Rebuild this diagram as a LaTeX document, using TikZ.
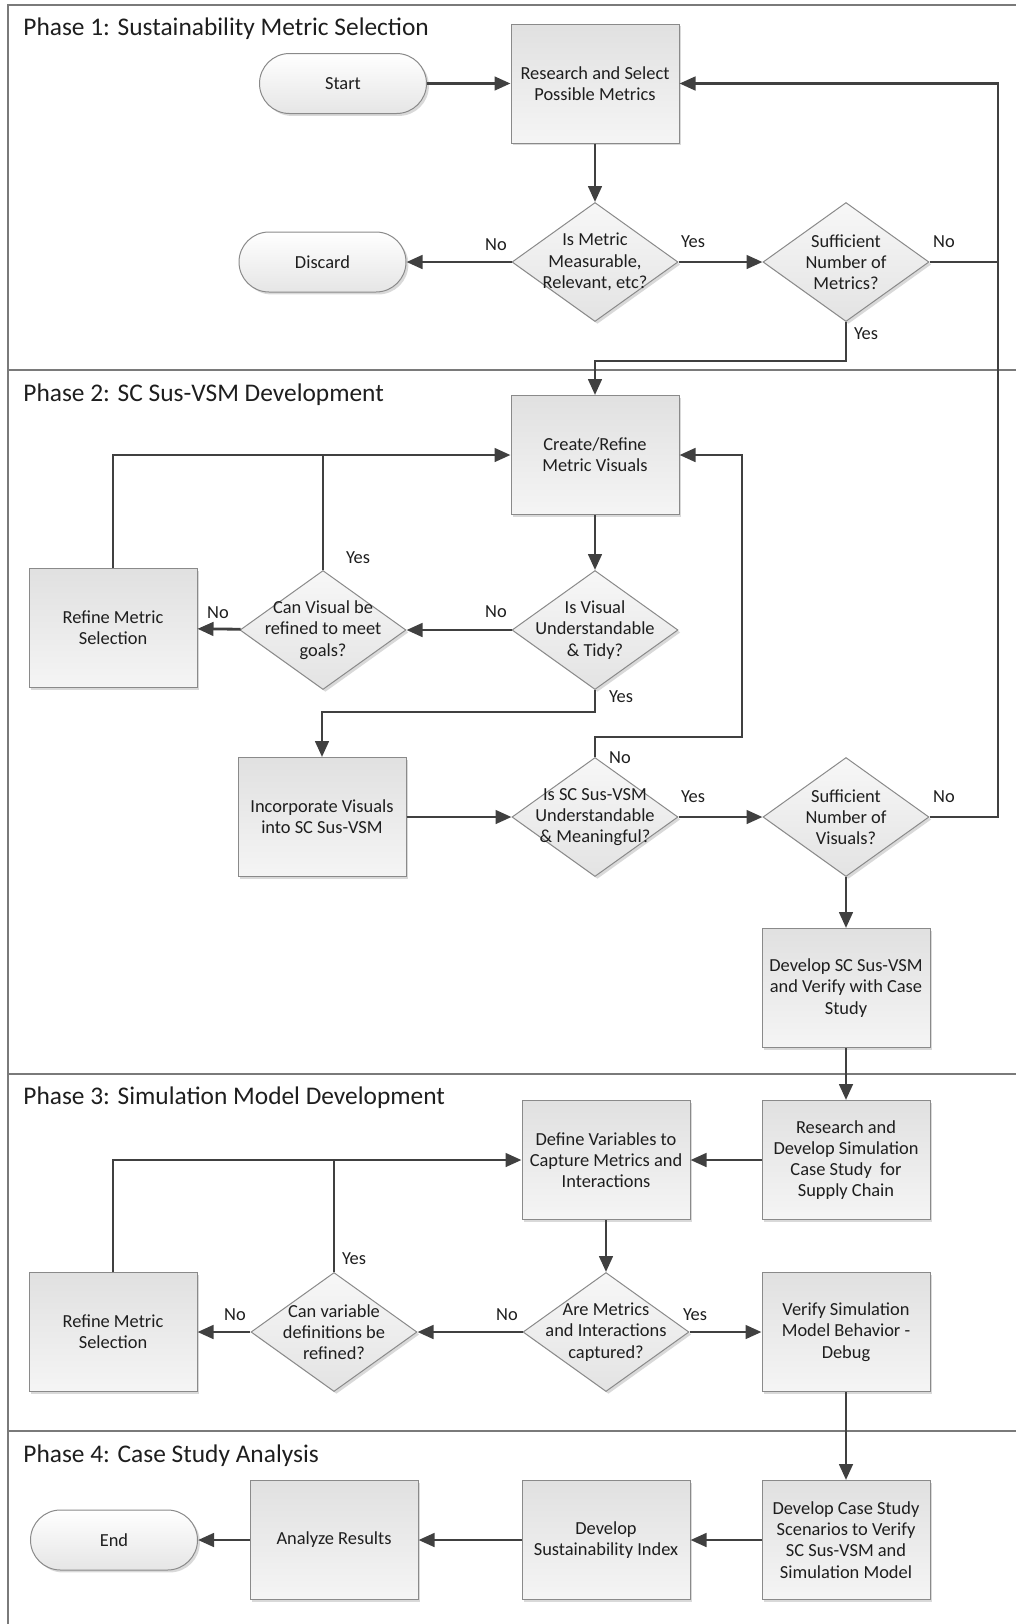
\documentclass[tikz,border=0pt]{standalone}
\usepackage{fontspec}
\setmainfont{Carlito}
\usetikzlibrary{shapes.geometric,arrows.meta,shadows}

\definecolor{linegray}{HTML}{404040}
\definecolor{framegray}{HTML}{7A7A7A}
\definecolor{edgegray}{HTML}{8A8A8A}
\definecolor{inkc}{HTML}{1E1E1E}

\begin{document}
\begin{tikzpicture}[x=0.5pt,y=-0.5pt,
  every node/.style={font=\fontsize{9.2}{10.6}\selectfont, text=inkc},
  softshadow/.style={drop shadow={shadow xshift=1.2pt, shadow yshift=-1.2pt, opacity=0.15, fill=black}},
  procbox/.style={draw=edgegray, line width=0.5pt, top color=black!12, bottom color=black!4,
    minimum width=84pt, minimum height=59.5pt, align=center, inner sep=2pt, softshadow},
  termbox/.style={draw=edgegray, line width=0.5pt, rounded corners=15pt, top color=white, bottom color=black!10,
    minimum width=83.5pt, minimum height=30pt, align=center, softshadow},
  decision/.style={diamond, aspect=1.4, draw=edgegray, line width=0.5pt, top color=black!3, bottom color=black!11,
    minimum width=83pt, minimum height=59.5pt, inner sep=0pt, softshadow},
  dtext/.style={align=center, inner sep=0pt},
  yn/.style={inner sep=0pt},
  phasetitle/.style={font=\fontsize{12.7}{15}\selectfont, anchor=west, inner sep=0pt},
  conn/.style={draw=linegray, line width=1.4pt},
  arr/.style={conn, -{Triangle[length=8pt,width=6.8pt]}},
  lane/.style={draw=framegray, line width=0.7pt}
]
\useasboundingbox (0,0) rectangle (1016,1624);

% swimlane frame and phase separators
\draw[lane] (1016,5) -- (8,5) -- (8,1624);
\draw[lane] (8,370) -- (1016,370);
\draw[lane] (8,1074) -- (1016,1074);
\draw[lane] (8,1431) -- (1016,1431);

\node[phasetitle] (t1) at (23,29) {Phase 1: Sustainability Metric Selection};
\node[phasetitle] (t2) at (23,395) {Phase 2: SC Sus-VSM Development};
\node[phasetitle] (t3) at (23,1098) {Phase 3: Simulation Model Development};
\node[phasetitle] (t4) at (23,1456) {Phase 4: Case Study Analysis};

% Phase 1
\node[termbox] (start) at (343,83.5) {Start};
\node[procbox] (res) at (595,83.5) {Research and Select\\Possible Metrics};
\node[decision, label={[dtext]center:{Is Metric\\Measurable,\\Relevant, etc?}}] (d1) at (595,262) {};
\node[termbox] (discard) at (322.5,262) {Discard};
\node[decision, label={[dtext]center:{Sufficient\\Number of\\Metrics?}}] (d2) at (846,262) {};

% Phase 2
\node[procbox] (create) at (595,455) {Create/Refine\\Metric Visuals};
\node[decision, label={[dtext]center:{Is Visual\\Understandable\\\& Tidy?}}] (isvis) at (595,630) {};
\node[decision, label={[dtext]center:{Can Visual be\\refined to meet\\goals?}}] (canvis) at (323,630) {};
\node[procbox] (refine2) at (113,628) {Refine Metric\\Selection};
\node[procbox] (incorp) at (322,817) {Incorporate Visuals\\into SC Sus-VSM};
\node[decision, label={[dtext]center:{Is SC Sus-VSM\\Understandable\\\& Meaningful?}}] (issc) at (595,817) {};
\node[decision, label={[dtext]center:{Sufficient\\Number of\\Visuals?}}] (visuals) at (846,817) {};
\node[procbox] (devsc) at (846,988) {Develop SC Sus-VSM\\and Verify with Case\\Study};

% Phase 3
\node[procbox] (rnd) at (846,1160) {Research and\\Develop Simulation\\Case Study~ for\\Supply Chain};
\node[procbox] (define) at (606,1160) {Define Variables to\\Capture Metrics and\\Interactions};
\node[decision, label={[dtext]center:{Are Metrics\\and Interactions\\captured?}}] (aremet) at (606,1332) {};
\node[decision, label={[dtext]center:{Can variable\\definitions be\\refined?}}] (canvar) at (334,1332) {};
\node[procbox] (refine3) at (113,1332) {Refine Metric\\Selection};
\node[procbox] (verify) at (846,1332) {Verify Simulation\\Model Behavior -\\Debug};

% Phase 4
\node[procbox] (devcase) at (846,1540) {Develop Case Study\\Scenarios to Verify\\SC Sus-VSM and\\Simulation Model};
\node[procbox] (devidx) at (606,1540) {Develop\\Sustainability Index};
\node[procbox] (analyze) at (334,1540) {Analyze Results};
\node[termbox] (endn) at (114,1540) {End};

% branch labels
\node[yn] (l1) at (496,245) {No};
\node[yn] (l2) at (693,242) {Yes};
\node[yn] (l3) at (944,242) {No};
\node[yn] (l4) at (866,334) {Yes};
\node[yn] (l5) at (358,558) {Yes};
\node[yn] (l6) at (218,613) {No};
\node[yn] (l7) at (496,612) {No};
\node[yn] (l8) at (621,697) {Yes};
\node[yn] (l9) at (620,758) {No};
\node[yn] (l10) at (693,797) {Yes};
\node[yn] (l11) at (944,797) {No};
\node[yn] (l12) at (354,1259) {Yes};
\node[yn] (l13) at (235,1315) {No};
\node[yn] (l14) at (507,1315) {No};
\node[yn] (l15) at (695,1315) {Yes};

% connector bends
\coordinate (ret) at (998,817);
\coordinate (loop) at (742,737);

% Phase 1 flow
\draw[arr] (start) -- (res);
\draw[arr] (res) -- (d1);
\draw[arr] (d1) -- (discard);
\draw[arr] (d1) -- (d2);
\draw[conn] (d2.east) -- (d2.east -| ret);
\draw[arr] (visuals.east) -- (ret) |- (res.east);
\draw[arr] (d2.south) -- ++(0,39) -| (create.north);

% Phase 2 flow
\draw[arr] (create) -- (isvis);
\draw[arr] (isvis) -- (canvis);
\draw[arr] (canvis) -- (refine2);
\draw[arr] (refine2.north) |- (create.west);
\draw[conn] (canvis.north) -- (canvis.north |- create.west);
\draw[arr] (isvis.south) -- ++(0,22) -| (incorp.north);
\draw[arr] (incorp) -- (issc);
\draw[arr] (issc.north) |- (loop) |- (create.east);
\draw[arr] (issc) -- (visuals);
\draw[arr] (visuals) -- (devsc);
\draw[arr] (devsc) -- (rnd);

% Phase 3 flow
\draw[arr] (rnd) -- (define);
\draw[arr] (define) -- (aremet);
\draw[arr] (aremet) -- (canvar);
\draw[arr] (canvar) -- (refine3);
\draw[arr] (refine3.north) |- (define.west);
\draw[conn] (canvar.north) -- (canvar.north |- define.west);
\draw[arr] (aremet) -- (verify);
\draw[arr] (verify) -- (devcase);

% Phase 4 flow
\draw[arr] (devcase) -- (devidx);
\draw[arr] (devidx) -- (analyze);
\draw[arr] (analyze) -- (endn);
\end{tikzpicture}
\end{document}
